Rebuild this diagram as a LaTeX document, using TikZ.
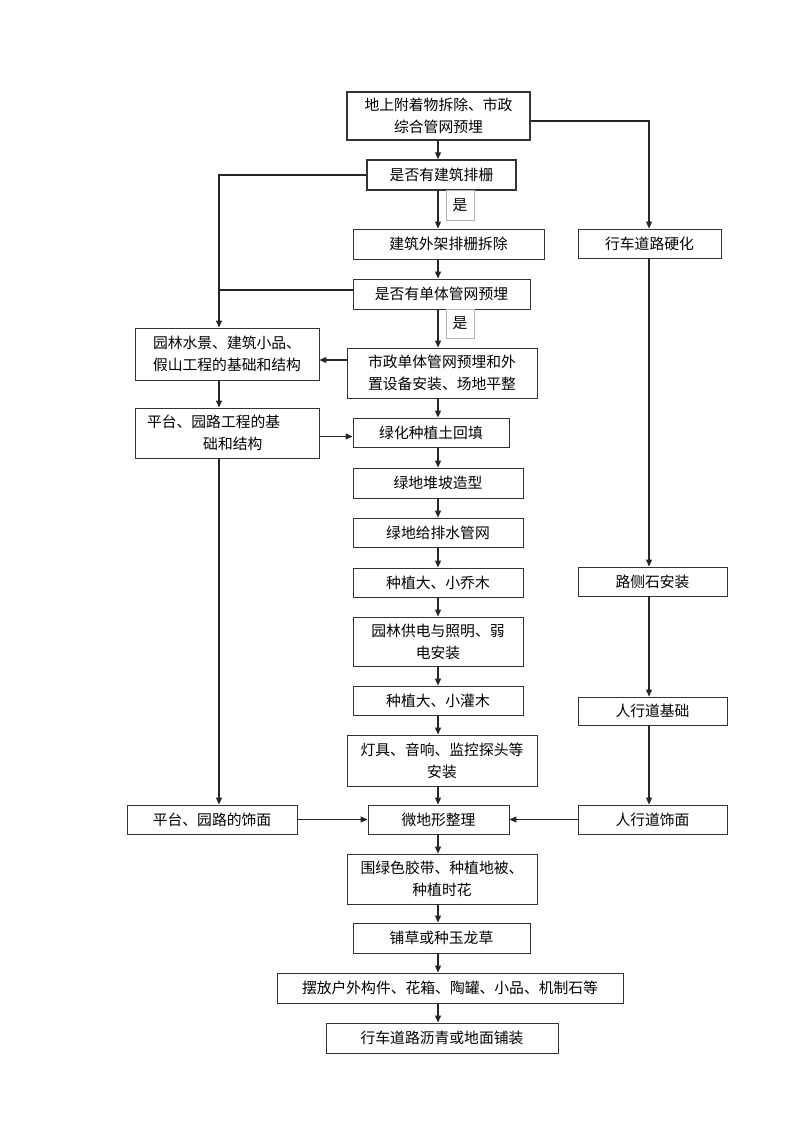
\documentclass[tikz,border=0pt]{standalone}
\usepackage{fontspec}
\newfontfamily\cjkfont{Noto Sans CJK SC}
\usetikzlibrary{arrows.meta,calc}

\begin{document}
\begin{tikzpicture}[
  x=1pt,y=-1pt,
  every node/.style={font=\cjkfont\fontsize{14.8}{22}\selectfont,align=center},
  flow/.style={-{Triangle[length=7pt,width=6pt]},line width=1.1pt,draw=black!85},
  link/.style={line width=1.1pt,draw=black!85},
  box/.style={draw=black!80,line width=0.9pt,inner sep=0pt},
  gate/.style={box,line width=1.5pt},
  yesmark/.style={draw=black!30,line width=0.5pt,inner sep=0pt},
  sz/.style 2 args={minimum width=#1pt,minimum height=#2pt}
]
\useasboundingbox (0,0) rectangle (800,1133);
\coordinate (cx) at (438,0);
\coordinate (lx) at (219,0);
\coordinate (rx) at (649,0);

% middle column
\node[gate,sz={183}{48}] (top) at (438.5,116) {地上附着物拆除、市政\\综合管网预埋};
\node[gate,sz={149}{30}] (q1) at (441.5,175) {是否有建筑排栅};
\node[box,sz={191}{30}] (rm) at (448.5,244) {建筑外架排栅拆除};
\node[box,sz={177}{30}] (q2) at (441.5,294) {是否有单体管网预埋};
\node[box,sz={190}{50}] (mun) at (442,373) {市政单体管网预埋和外\\置设备安装、场地平整};
\node[box,sz={156}{29}] (fill) at (431,432.5) {绿化种植土回填};
\node[box,sz={170}{30}] (mound) at (438,483) {绿地堆坡造型};
\node[box,sz={170}{29}] (drain) at (438,532.5) {绿地给排水管网};
\node[box,sz={170}{29}] (trees) at (438,582.5) {种植大、小乔木};
\node[box,sz={170}{49}] (power) at (438,641.5) {园林供电与照明、弱\\电安装};
\node[box,sz={170}{29}] (shrubs) at (438,700.5) {种植大、小灌木};
\node[box,sz={190}{51}] (lamps) at (442,760.5) {灯具、音响、监控探头等\\安装};
\node[box,sz={141}{29}] (terrain) at (438.5,819.5) {微地形整理};
\node[box,sz={190}{50}] (tape) at (442,879) {围绿色胶带、种植地被、\\种植时花};
\node[box,sz={177}{30}] (grass) at (441.5,938) {铺草或种玉龙草};
\node[box,sz={346}{30}] (place) at (450,988) {摆放户外构件、花箱、陶罐、小品、机制石等};
\node[box,sz={232}{30}] (pave) at (442,1038) {行车道路沥青或地面铺装};
\node[yesmark,sz={28}{30}] (yes1) at (460,205) {是};
\node[yesmark,sz={28}{29}] (yes2) at (460,323.5) {是};

% right column
\node[box,sz={143}{29}] (road) at (649.5,243.5) {行车道路硬化};
\node[box,sz={149}{29}] (curb) at (652.5,581.5) {路侧石安装};
\node[box,sz={149}{28}] (walkb) at (652.5,711) {人行道基础};
\node[box,sz={149}{29}] (walkf) at (652.5,819.5) {人行道饰面};

% left column
\node[box,sz={184}{52}] (water) at (227,354) {园林水景、建筑小品、\\假山工程的基础和结构};
\node[box,sz={184}{50},text width=160pt,align=left] (platb) at (227,433) {平台、园路工程的基\\\hspace*{3.8em}础和结构};
\node[box,sz={170}{29}] (platf) at (212,819.5) {平台、园路的饰面};

\draw[flow] (cx |- top.south) -- (cx |- q1.north);
\draw[flow] ([yshift=-5pt]top.east) -| (rx |- road.north);
\draw[flow] (q1.west) -| (lx |- water.north);
\draw[flow] (cx |- q1.south) -- (cx |- rm.north);
\draw[flow] (cx |- rm.south) -- (cx |- q2.north);
\draw[link] ([yshift=4pt]q2.west) -- ([yshift=4pt]q2.west -| lx);
\draw[flow] (cx |- q2.south) -- (cx |- mun.north);
\draw[flow] ([yshift=13pt]mun.west) -- ([yshift=13pt]mun.west -| water.east);
\draw[flow] (lx |- water.south) -- (lx |- platb.north);
\draw[flow] ([yshift=-4pt]fill.west -| platb.east) -- ([yshift=-4pt]fill.west);
\draw[flow] (lx |- platb.south) -- (lx |- platf.north);
\draw[flow] (cx |- mun.south) -- (cx |- fill.north);
\draw[flow] (cx |- fill.south) -- (cx |- mound.north);
\draw[flow] (cx |- mound.south) -- (cx |- drain.north);
\draw[flow] (cx |- drain.south) -- (cx |- trees.north);
\draw[flow] (cx |- trees.south) -- (cx |- power.north);
\draw[flow] (cx |- power.south) -- (cx |- shrubs.north);
\draw[flow] (cx |- shrubs.south) -- (cx |- lamps.north);
\draw[flow] (cx |- lamps.south) -- (cx |- terrain.north);
\draw[flow] (cx |- terrain.south) -- (cx |- tape.north);
\draw[flow] (cx |- tape.south) -- (cx |- grass.north);
\draw[flow] (cx |- grass.south) -- (cx |- place.north);
\draw[flow] (cx |- place.south) -- (cx |- pave.north);
\draw[flow] (rx |- road.south) -- (rx |- curb.north);
\draw[flow] (rx |- curb.south) -- (rx |- walkb.north);
\draw[flow] (rx |- walkb.south) -- (rx |- walkf.north);
\draw[flow] (platf) -- (terrain);
\draw[flow] (walkf) -- (terrain);
\end{tikzpicture}
\end{document}
